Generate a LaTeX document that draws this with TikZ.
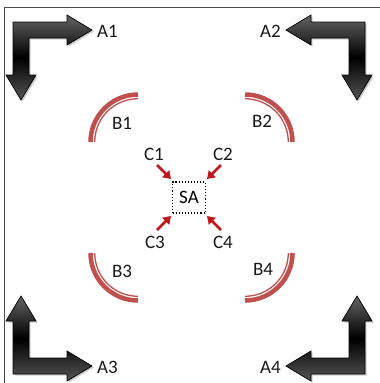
\documentclass[tikz,border=0pt]{standalone}
\usepackage{fontspec}
\setmainfont{Carlito}
\usetikzlibrary{arrows.meta}

\definecolor{arcred}{RGB}{192,80,77}
\definecolor{pointred}{RGB}{192,24,28}
\definecolor{elbowgray}{RGB}{100,100,100}

\tikzset{
  lbl/.style={font=\fontsize{19}{22}\selectfont, inner sep=0pt, text=black!90},
  elbowbody/.style={draw=black, line width=0.7pt, line join=miter,
    top color=elbowgray, bottom color=elbowgray!85!black, middle color=black},
  elbowshadow/.style={fill=black!35, opacity=0.55},
  thickarc/.style={draw=arcred, line width=4.5pt},
  thinarc/.style={draw=arcred, line width=1.3pt},
  pointer/.style={draw=pointred, line width=2.6pt,
    -{Triangle[length=7.5pt,width=9.5pt]}},
  framebox/.style={draw=black!70, line width=0.8pt}
}

% L-shaped elbow arrow (top-left orientation)
\newcommand\elbowoutline{%
  (13,22) -- (67,22) -- (67,15) -- (92,30) -- (67,45) -- (67,38) --
  (29,38) -- (29,75) -- (36,75) -- (21,100) -- (6,75) -- (13,75) -- cycle}

\newcommand\elbowarrow[1]{%
  \begin{scope}[shift={(1.6,1.6)}]
    \begin{scope}[#1]
      \path[elbowshadow] \elbowoutline;
    \end{scope}
  \end{scope}
  \begin{scope}[#1]
    \path[elbowbody] \elbowoutline;
  \end{scope}}

\begin{document}
\begin{tikzpicture}[x=1pt, y=-1pt]
  \useasboundingbox (0,0) rectangle (380,383);
  \fill[white] (0,0) rectangle (380,383);

  % outer frame (only the top and left edges fall inside the picture)
  \draw[framebox] (4,384) -- (4,7) -- (381,7);

  % corner elbow arrows
  \elbowarrow{}
  \elbowarrow{shift={(378,0)}, xscale=-1}
  \elbowarrow{shift={(0,396)}, yscale=-1}
  \elbowarrow{shift={(378,396)}, xscale=-1, yscale=-1}

  \node[lbl, anchor=west] (a1) at (97,31) {A1};
  \node[lbl, anchor=east] (a2) at (281,31) {A2};
  \node[lbl, anchor=west] (a3) at (97,367) {A3};
  \node[lbl, anchor=east] (a4) at (281,367) {A4};

  % double arcs
  \draw[thickarc] (138,142) ++(180:47.5) arc[start angle=180, end angle=270, radius=47.5];
  \draw[thinarc]  (138,142) ++(180:43.3) arc[start angle=180, end angle=270, radius=43.3];
  \draw[thickarc] (245,142) ++(270:47.5) arc[start angle=270, end angle=360, radius=47.5];
  \draw[thinarc]  (245,142) ++(270:43.3) arc[start angle=270, end angle=360, radius=43.3];
  \draw[thickarc] (138,253) ++(90:47.5) arc[start angle=90, end angle=180, radius=47.5];
  \draw[thinarc]  (138,253) ++(90:43.3) arc[start angle=90, end angle=180, radius=43.3];
  \draw[thickarc] (245,253) ++(0:47.5) arc[start angle=0, end angle=90, radius=47.5];
  \draw[thinarc]  (245,253) ++(0:43.3) arc[start angle=0, end angle=90, radius=43.3];

  \node[lbl] (b1) at (122,123) {B1};
  \node[lbl] (b2) at (262,121) {B2};
  \node[lbl] (b3) at (122,271) {B3};
  \node[lbl] (b4) at (263,269) {B4};

  % centre box
  \node[draw=black, dotted, line width=1.1pt, minimum width=33pt, minimum height=31pt,
        inner sep=0pt, font=\fontsize{19}{22}\selectfont] (sa) at (189,197.5) {SA};

  % pointers towards the centre box
  \node[lbl] (c1) at (154,154) {C1};
  \node[lbl] (c2) at (223,154) {C2};
  \node[lbl] (c3) at (155,242) {C3};
  \node[lbl] (c4) at (223,242) {C4};

  \coordinate (t1) at (157,165);
  \coordinate (h1) at (171,179);
  \coordinate (t2) at (221,165);
  \coordinate (h2) at (207,179);
  \coordinate (t3) at (157,230);
  \coordinate (h3) at (171,216);
  \coordinate (t4) at (221,230);
  \coordinate (h4) at (207,216);

  \draw[pointer] (t1) -- (h1);
  \draw[pointer] (t2) -- (h2);
  \draw[pointer] (t3) -- (h3);
  \draw[pointer] (t4) -- (h4);
\end{tikzpicture}
\end{document}
